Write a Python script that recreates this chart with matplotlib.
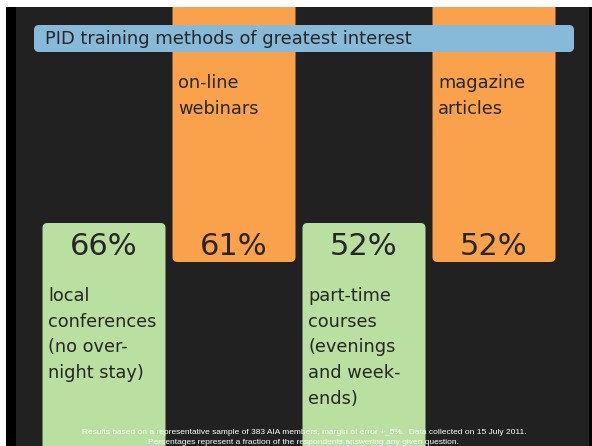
import matplotlib
matplotlib.use("Agg")
import matplotlib.pyplot as plt
from matplotlib.patches import FancyBboxPatch, Rectangle

FIGURE_BGCOLOR = 'white'
PANEL_COLOUR = '#212121'
GREEN_COLOUR = '#b9e0a0'
ORANGE_COLOUR = '#f9a24b'
TITLE_COLOUR = '#86bad8'
TEXT_COLOUR = '#262626'

# survey answers, in order of appearance
categories = ["local\nconferences\n(no over-\nnight stay)",
              "on-line\nwebinars",
              "part-time\ncourses\n(evenings\nand week-\nends)",
              "magazine\narticles"]
percentages = [66, 61, 52, 52]
bar_side = ["bottom", "top", "bottom", "top"]

title = "PID training methods of greatest interest"
footnote = ["Results based on a representative sample of 383 AIA members, "
            "margin of error +_5%.  Data collected on 15 July 2011.",
            "Percentages represent a fraction of the respondents "
            "answering any given question."]

W, H = 592, 446


def rounded_bars(ax, bars, colour, px_per_unit):
    """ Swap plain bar rectangles for ones with rounded corners. """
    for rect in bars:
        x0, y0 = rect.get_xy()
        w, h = rect.get_width(), rect.get_height()
        if h < 0:
            y0, h = y0 + h, -h
        fancy = FancyBboxPatch((x0, y0), w, h,
                               boxstyle=f"round,pad=0,rounding_size={5 / px_per_unit}",
                               mutation_aspect=px_per_unit,
                               facecolor=colour, edgecolor='none', zorder=2)
        ax.add_patch(fancy)
        rect.remove()


fig = plt.figure(figsize=(W / 100, H / 100), dpi=100)
fig.set_facecolor(FIGURE_BGCOLOR)

# frame: black strip on the left, dark panel behind the bars
frame = fig.add_axes([0, 0, 1, 1])
frame.set_xlim(0, W)
frame.set_ylim(H, 0)
frame.axis('off')
frame.add_patch(Rectangle((6, 7), W - 6, H - 7, facecolor='black', edgecolor='none'))

# main panel, x in category units, y in pixels from the top
left_px, right_px, top_px = 16, 589, 7
pitch = 130.0
first_centre = 104
ax = fig.add_axes([left_px / W, 0, (right_px - left_px) / W, (H - top_px) / H])
ax.set_facecolor(PANEL_COLOUR)
ax.set_xlim((left_px - first_centre) / pitch, (right_px - first_centre) / pitch)
ax.set_ylim(H, top_px)
ax.axis('off')
ax.add_patch(Rectangle((0, 0), 1, 1, transform=ax.transAxes,
                       facecolor=PANEL_COLOUR, edgecolor='none', zorder=0))

green_top, orange_bottom = 223, 262
for i, (label, pct, side) in enumerate(zip(categories, percentages, bar_side)):
    if side == "bottom":
        bars = ax.bar(i, H - green_top + 10, bottom=green_top, width=123 / pitch,
                      color=GREEN_COLOUR)
        rounded_bars(ax, bars, GREEN_COLOUR, pitch)
        label_y = 287
    else:
        bars = ax.bar(i, orange_bottom - top_px + 10, bottom=top_px - 10,
                      width=123 / pitch, color=ORANGE_COLOUR)
        rounded_bars(ax, bars, ORANGE_COLOUR, pitch)
        label_y = 74
    ax.text(i, 255, f"{pct}%", ha='center', va='baseline',
            fontsize=22, color=TEXT_COLOUR, zorder=3)
    ax.text(i - 0.46 + 4 / pitch, label_y, label, ha='left', va='top',
            fontsize=12.8, color=TEXT_COLOUR, linespacing=1.55, zorder=3)

# title banner
frame2 = fig.add_axes([0, 0, 1, 1])
frame2.set_xlim(0, W)
frame2.set_ylim(H, 0)
frame2.axis('off')
frame2.add_patch(FancyBboxPatch((34, 25), 540, 27,
                                boxstyle="round,pad=0,rounding_size=5",
                                facecolor=TITLE_COLOUR, edgecolor='none'))
frame2.text(45, 39, title, ha='left', va='center',
            fontsize=12.9, color=TEXT_COLOUR)

# footnote
frame2.text(304, 433, footnote[0], ha='center', va='center',
            fontsize=6.0, color='white', family='Liberation Sans')
frame2.text(304, 442, footnote[1], ha='center', va='center',
            fontsize=6.0, color='white', family='Liberation Sans')

fig.savefig('out.png', dpi=100, facecolor=FIGURE_BGCOLOR)
